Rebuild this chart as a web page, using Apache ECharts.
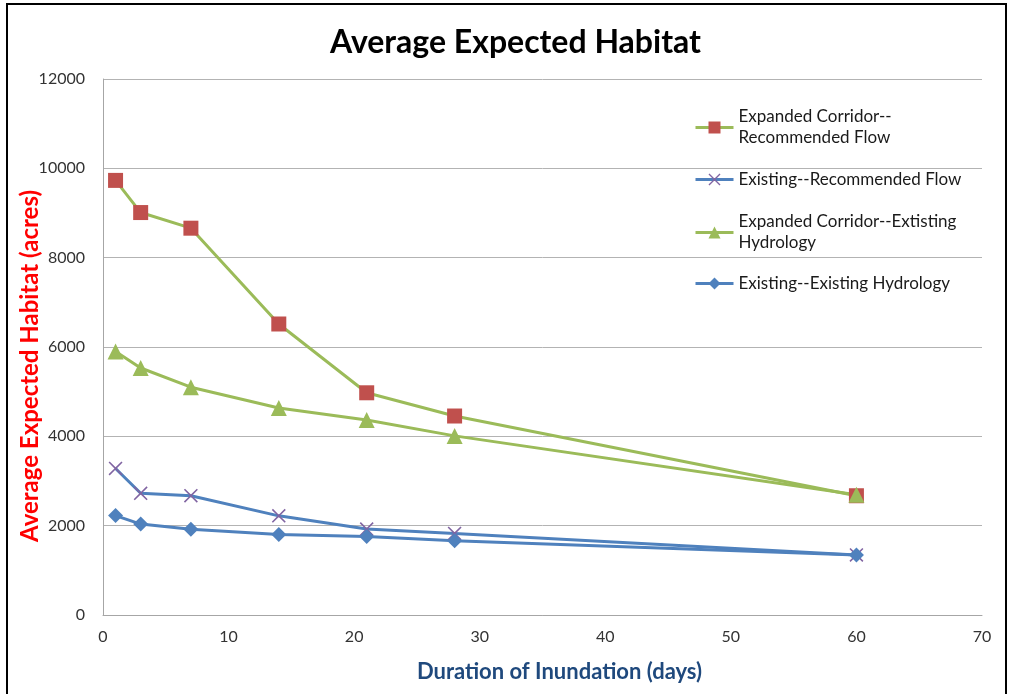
<!DOCTYPE html>
<html>
<head>
<meta charset="utf-8">
<title>Average Expected Habitat</title>
<script src="https://cdn.jsdelivr.net/npm/echarts@6/dist/echarts.min.js"></script>
<style>
  html, body { margin: 0; padding: 0; background: #fff; }
  #chart { width: 1010px; height: 694px; }
</style>
</head>
<body>
<div id="chart"></div>
<script>
// Duration of inundation (days) at which habitat was evaluated
const days = [1, 3, 7, 14, 21, 28, 60];

// Average expected habitat (acres) for each scenario
const expandedRecommended = [9730, 9010, 8660, 6515, 4975, 4455, 2670];
const existingRecommended = [3280, 2725, 2670, 2220, 1925, 1825, 1345];
const expandedExisting    = [5900, 5530, 5100, 4635, 4365, 4010, 2690];
const existingExisting    = [2225, 2035, 1920, 1800, 1755, 1665, 1345];

const seriesNames = [
  'Expanded Corridor--Recommended Flow',
  'Existing--Recommended Flow',
  'Expanded Corridor--Extisting Hydrology',
  'Existing--Existing Hydrology'
];
// Legend labels, wrapped the way they are printed
const legendLabels = [
  'Expanded Corridor--\nRecommended Flow',
  'Existing--Recommended Flow',
  'Expanded Corridor--Extisting\nHydrology',
  'Existing--Existing Hydrology'
];

const chartTitle = 'Average Expected Habitat';
const xTitle = 'Duration of Inundation (days)';
const yTitle = 'Average Expected Habitat (acres)';

const GREEN = '#9bbb59', BLUE = '#4f81bd', RED = '#c0504d', PURPLE = '#8064a2';
const FONT = 'Lato, "Open Sans", sans-serif';

// Thin "x" marker outline
const crossPath = 'path://M0,1.6L1.6,0L10,8.4L18.4,0L20,1.6L11.6,10L20,18.4L18.4,20L10,11.6L1.6,20L0,18.4L8.4,10Z';

function pairs(values) {
  return days.map((d, i) => [d, values[i]]);
}

function lineSeries(name, values, color, symbol, size, symColor) {
  return {
    name: name,
    type: 'line',
    data: pairs(values),
    symbol: symbol,
    symbolSize: size,
    showSymbol: true,
    lineStyle: { color: color, width: 3 },
    itemStyle: { color: symColor },
    emphasis: { disabled: true },
    animation: false
  };
}

// One legend block per entry so each row sits at its own height
const legendTops = [96, 169, 201, 273];
function legendBlock(i) {
  const twoLines = legendLabels[i].indexOf('\n') >= 0;
  return {
    data: [seriesNames[i]],
    left: 694,
    top: legendTops[i],
    padding: 0,
    itemWidth: 38,
    itemHeight: 15,
    selectedMode: false,
    lineStyle: { width: 3 },
    formatter: () => legendLabels[i],
    textStyle: {
      fontFamily: FONT,
      fontSize: 17,
      color: '#1a1a1a',
      lineHeight: 21,
      padding: twoLines ? [21, 0, 0, 0] : 0
    }
  };
}

const chart = echarts.init(document.getElementById('chart'), null, { renderer: 'canvas' });

chart.setOption({
  backgroundColor: '#ffffff',
  animation: false,
  title: {
    text: chartTitle,
    left: 325,
    top: 22,
    textStyle: { fontFamily: FONT, fontWeight: 'bold', fontSize: 32, color: '#000' }
  },
  legend: [0, 1, 2, 3].map(legendBlock),
  grid: { left: 103, right: 28, top: 79, bottom: 79, containLabel: false },
  xAxis: {
    type: 'value',
    min: 0,
    max: 70,
    interval: 10,
    name: xTitle,
    nameLocation: 'middle',
    nameGap: 46,
    nameTextStyle: {
      fontFamily: FONT, fontWeight: 'bold', fontSize: 22, color: '#1f497d',
      padding: [0, 0, 0, 34]
    },
    axisLine: { lineStyle: { color: '#a6a6a6', width: 1 } },
    axisTick: { show: false },
    axisLabel: { fontFamily: FONT, fontSize: 16, color: '#333', margin: 14 },
    splitLine: { show: false }
  },
  yAxis: {
    type: 'value',
    min: 0,
    max: 12000,
    interval: 2000,
    axisLine: { show: true, lineStyle: { color: '#a6a6a6', width: 1 } },
    axisTick: { show: false },
    axisLabel: {
      fontFamily: FONT, fontSize: 16, color: '#333', margin: 18,
      formatter: (v) => String(v)
    },
    splitLine: { show: true, lineStyle: { color: '#b3b3b3', width: 1 } }
  },
  series: [
    lineSeries(seriesNames[0], expandedRecommended, GREEN, 'rect', 15, RED),
    lineSeries(seriesNames[1], existingRecommended, BLUE, crossPath, 14, PURPLE),
    lineSeries(seriesNames[2], expandedExisting, GREEN, 'triangle', 16, GREEN),
    lineSeries(seriesNames[3], existingExisting, BLUE, 'diamond', 15, BLUE)
  ],
  graphic: [
    {
      // vertical value-axis title
      type: 'text',
      silent: true,
      x: 30,
      y: 366,
      rotation: Math.PI / 2,
      style: {
        text: yTitle,
        fontFamily: FONT,
        fontWeight: 'bold',
        fontSize: 24,
        fill: '#ff0000',
        align: 'center',
        verticalAlign: 'middle'
      }
    },
    {
      // outer frame
      type: 'rect',
      silent: true,
      z: 100,
      shape: { x: 7, y: 4, width: 999, height: 700 },
      style: { fill: 'none', stroke: '#000', lineWidth: 2 }
    }
  ]
});
</script>
</body>
</html>
